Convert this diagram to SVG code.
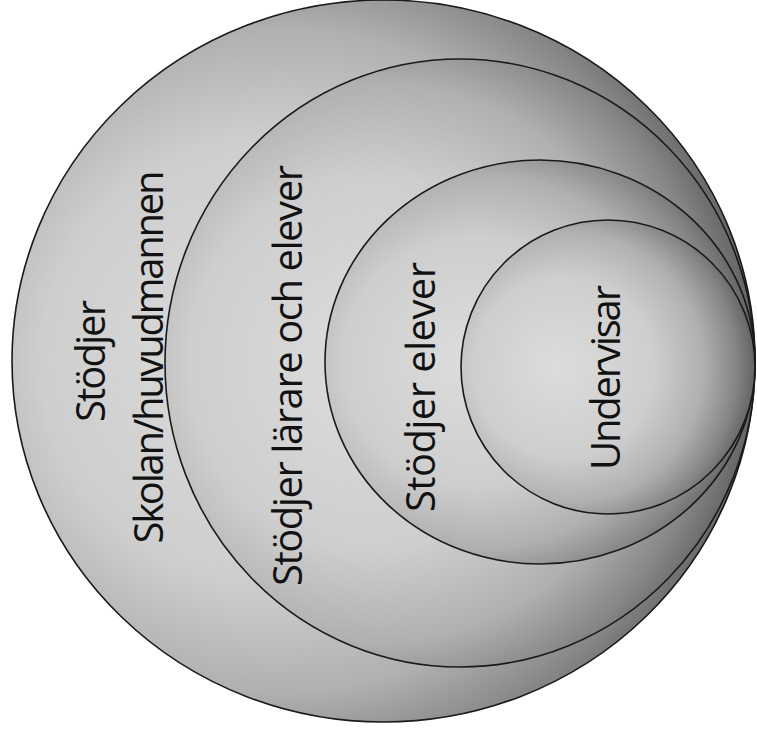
<svg xmlns="http://www.w3.org/2000/svg" width="757" height="735" viewBox="0 0 757 735">
  <style>
    .ring { stroke: #1a1a1a; stroke-width: 1.6; fill: url(#shade); }
    .lbl { font-family: "Open Sans", "Liberation Sans", sans-serif; font-size: 40px; fill: #111111; text-anchor: middle; }
  </style>
  <defs>
    <radialGradient id="shade" cx="0.38" cy="0.5" r="0.64" fx="0.32" fy="0.5">
      <stop offset="0" stop-color="#dcdcdc"/>
      <stop offset="0.48" stop-color="#cecece"/>
      <stop offset="0.72" stop-color="#b0b0b0"/>
      <stop offset="0.88" stop-color="#858585"/>
      <stop offset="1" stop-color="#595959"/>
    </radialGradient>
  </defs>
  <rect width="757" height="735" fill="#ffffff"/>

  <g id="node-skolan">
    <ellipse class="ring" cx="383.5" cy="361" rx="371.5" ry="361"/>
    <text class="lbl" transform="translate(105,361) rotate(-90)" textLength="122">Stödjer</text>
    <text class="lbl" transform="translate(163,357) rotate(-90)" textLength="373">Skolan/huvudmannen</text>
  </g>

  <g id="node-larare-elever">
    <ellipse class="ring" cx="460" cy="363" rx="295" ry="304"/>
    <text class="lbl" transform="translate(302,375.5) rotate(-90)" textLength="421">Stödjer lärare och elever</text>
  </g>

  <g id="node-elever">
    <ellipse class="ring" cx="540" cy="362" rx="215" ry="202"/>
    <text class="lbl" transform="translate(435,387) rotate(-90)" textLength="250">Stödjer elever</text>
  </g>

  <g id="node-undervisar">
    <ellipse class="ring" cx="608" cy="367" rx="147" ry="147"/>
    <text class="lbl" transform="translate(620,377.5) rotate(-90)" textLength="185">Undervisar</text>
  </g>

  <g id="connectors"></g>
</svg>
